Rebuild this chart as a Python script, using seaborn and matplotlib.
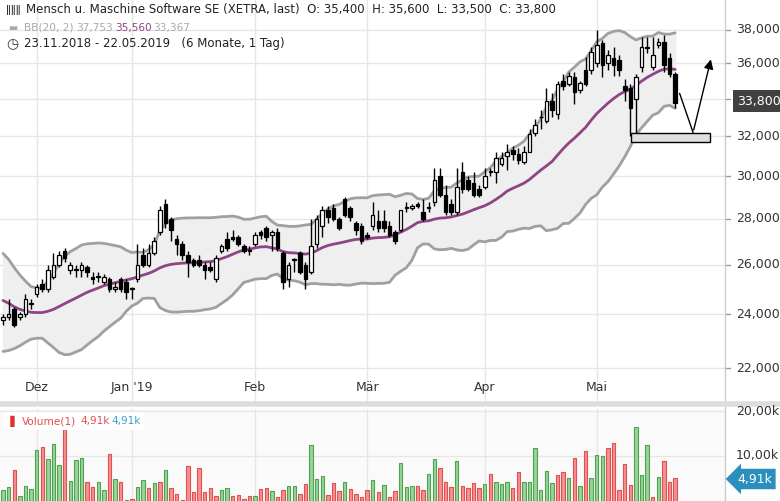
import numpy as np
import pandas as pd
import matplotlib
matplotlib.use("Agg")
import matplotlib.pyplot as plt
import seaborn as sns
from matplotlib.patches import Rectangle

sns.set_theme(style="white", font="DejaVu Sans")

# trading days 23.11.2018 - 22.05.2019 (XETRA holidays removed)
holidays = ["2018-12-24", "2018-12-25", "2018-12-26", "2018-12-31", "2019-01-01",
            "2019-04-19", "2019-04-22", "2019-05-01"]
days = pd.bdate_range("2018-11-23", "2019-05-22")
days = days[~days.isin(pd.to_datetime(holidays))]

# prices in thousand EUR
opens = [23.8, 23.9, 24.2, 23.9, 24.0, 24.4,
         24.8, 25.2, 25.0, 25.5, 26.0, 26.6, 25.8, 25.8, 25.8, 25.9, 25.5, 25.5, 25.3, 25.4, 25.0, 25.4, 25.3,
         25.0, 25.4, 26.4, 26.0, 26.5, 27.4, 28.7, 28.0, 27.1, 26.9, 26.4, 26.2, 26.2, 26.0, 25.9, 25.4, 26.6, 27.1, 27.2, 27.2, 26.8, 26.6,
         26.9, 27.4, 27.6, 27.3, 27.4, 26.5, 25.4, 26.2, 26.5, 26.0, 25.7, 26.9, 27.7, 28.4, 28.5, 28.0, 28.9, 28.5, 27.8, 27.7,
         27.3, 27.7, 27.9, 27.9, 27.7, 27.4, 27.5, 28.5, 28.5, 28.7, 28.3, 28.5, 28.8, 30.0, 29.1, 28.7, 28.3, 30.2, 29.8, 29.7, 29.4,
         29.5, 30.2, 30.2, 30.6, 31.0, 31.3, 31.1, 30.7, 31.2, 32.2, 33.0, 32.8, 33.9, 33.2, 35.0, 34.8, 35.2, 34.5, 35.6, 35.6,
         36.0, 37.2, 36.0, 36.3, 36.2, 34.7, 34.6, 34.0, 35.8, 37.0, 35.8, 37.1, 37.3, 36.3, 35.4]
closes = [23.9, 24.0, 23.6, 24.0, 24.6, 24.4,
          25.1, 25.0, 25.8, 26.0, 26.4, 26.3, 26.0, 25.8, 26.0, 25.7, 25.4, 25.5, 25.5, 25.0, 25.1, 25.0, 24.9,
          25.0, 26.0, 26.0, 26.5, 27.0, 28.4, 27.8, 27.5, 26.9, 26.4, 26.1, 26.0, 26.0, 25.8, 25.8, 26.3, 26.8, 26.7, 27.1, 26.9, 26.6, 26.6,
          27.3, 27.3, 27.2, 27.4, 26.7, 25.3, 26.0, 26.2, 25.7, 25.4, 26.8, 28.0, 28.4, 28.1, 28.0, 27.6, 28.2, 28.1, 27.5, 27.0,
          27.2, 28.2, 27.6, 27.6, 27.3, 27.0, 28.4, 28.5, 28.6, 28.6, 28.0, 28.5, 29.8, 29.1, 28.3, 28.3, 29.5, 29.4, 29.4, 29.1, 29.1,
          30.0, 30.2, 30.9, 30.9, 31.2, 31.1, 30.8, 31.2, 32.1, 32.6, 33.0, 33.9, 33.4, 34.8, 34.7, 35.3, 34.4, 34.9, 34.8, 36.7,
          37.1, 35.9, 36.5, 35.9, 35.6, 34.5, 33.5, 35.2, 37.0, 36.9, 36.5, 37.3, 35.9, 35.4, 33.8]
highs = [24.0, 24.6, 24.3, 24.1, 24.8, 24.6,
         25.2, 25.4, 26.0, 26.5, 26.6, 26.7, 26.1, 26.0, 26.1, 26.0, 25.7, 25.7, 25.6, 25.5, 25.3, 25.5, 25.4,
         25.1, 26.9, 26.7, 26.9, 27.2, 28.6, 28.9, 28.1, 27.3, 27.0, 26.6, 26.3, 26.4, 26.1, 26.1, 26.4, 26.9, 27.4, 27.5, 27.3, 26.9, 26.8,
         27.4, 27.5, 27.7, 27.5, 27.6, 26.6, 26.1, 26.3, 26.6, 26.1, 28.0, 28.2, 28.6, 28.6, 28.7, 28.1, 29.0, 28.6, 27.9, 27.8,
         27.4, 28.8, 28.4, 28.4, 27.9, 27.5, 28.4, 28.8, 28.7, 28.8, 28.9, 28.8, 30.4, 30.4, 29.6, 28.9, 30.4, 30.7, 30.0, 30.2, 29.6,
         30.4, 30.4, 31.2, 31.2, 31.6, 31.5, 31.4, 31.5, 32.4, 32.9, 33.4, 34.6, 34.3, 35.0, 35.4, 35.5, 35.5, 35.0, 36.4, 37.0,
         38.0, 37.4, 36.8, 37.0, 36.5, 35.1, 34.8, 35.4, 37.6, 37.6, 37.6, 37.5, 37.7, 36.6, 35.5]
lows = [23.6, 23.8, 23.5, 23.8, 23.9, 24.2,
        24.7, 24.9, 24.9, 25.4, 25.9, 26.1, 25.6, 25.5, 25.5, 25.5, 25.2, 25.3, 25.2, 24.9, 24.9, 24.9, 24.6,
        24.6, 25.3, 25.9, 25.9, 26.4, 27.3, 27.6, 27.0, 26.4, 26.2, 25.5, 25.9, 25.9, 25.4, 25.7, 25.3, 26.5, 26.6, 27.0, 26.8, 26.5, 26.4,
        26.8, 27.1, 27.0, 26.6, 26.6, 25.0, 25.1, 25.7, 25.6, 25.0, 25.6, 26.7, 27.2, 27.8, 27.9, 27.5, 28.1, 27.9, 27.3, 26.9,
        27.1, 27.5, 27.4, 27.4, 27.2, 26.9, 27.4, 28.3, 28.4, 28.5, 27.9, 28.3, 28.6, 29.0, 28.2, 28.2, 28.2, 29.2, 29.3, 29.0, 29.0,
        29.4, 30.0, 29.7, 30.5, 30.3, 30.8, 30.6, 30.6, 31.2, 32.0, 32.4, 32.7, 33.0, 32.9, 34.5, 34.7, 33.7, 34.3, 34.7, 35.4,
        35.8, 35.2, 35.6, 35.3, 35.3, 33.9, 32.0, 32.0, 35.5, 36.6, 35.6, 36.9, 35.5, 35.2, 33.5]
# closes of the 19 days before the chart start (for the Bollinger window)
pre_closes = [26.2, 26.4, 26.0, 25.8, 25.5, 25.3, 25.0, 24.8, 24.5, 24.2,
              24.0, 23.8, 23.6, 23.7, 23.4, 23.6, 23.8, 23.6, 23.8]

# volume in thousand shares, g = up, r = down
volume = [2.5, 3.0, 6.9, 1.1, 3.3, 2.7, 11.3, 11.9, 9.3, 12.7, 8.0, 16.5,
          4.4, 9.1, 9.5, 4.3, 3.0, 4.2, 2.4, 10.4, 4.8, 4.3, 0.2,
          0.4, 3.0, 4.7, 2.9, 3.9, 4.2, 6.9, 2.9, 1.6, 0.2, 7.8,
          1.9, 7.3, 2.0, 2.8, 1.1, 2.4, 2.8, 1.1, 1.3, 0.5, 1.0,
          1.1, 2.6, 2.9, 2.3, 0.9, 2.4, 3.3, 3.3, 1.6, 3.7, 12.4,
          4.8, 5.6, 1.3, 4.1, 2.2, 4.3, 2.6, 1.6, 0.9, 2.4, 4.7,
          2.0, 3.5, 0.9, 2.2, 8.4, 3.2, 3.3, 3.3, 2.5, 6.0, 9.3,
          7.3, 4.2, 3.2, 8.9, 3.3, 2.9, 4.0, 2.9, 3.8, 6.0, 4.2,
          3.8, 4.2, 2.9, 6.4, 4.2, 4.2, 11.7, 2.4, 6.7, 4.0, 5.7,
          6.4, 5.1, 9.6, 3.3, 11.0, 5.1, 10.2, 10.0, 11.7, 12.9, 2.4,
          8.2, 3.6, 16.4, 5.7, 12.4, 0.9, 5.3, 8.9, 4.2, 5.1]
vol_dir = ("ggrggggrgggr" "gggrrggrgrg" "rggrgrgrrrr" "rrrrrggrrrr"
           "grrgrrggrrg" "ggrrrgrrrrg" "rgrrgggrrgg" "rrrgrrrrgrg"
           "ggrrggggggr" "rgrgrgggrrr" "rrgggrgrrr")

n = len(days)
idx = np.arange(n)
o = np.array(opens) * 1000
c = np.array(closes) * 1000
h = np.array(highs) * 1000
l = np.array(lows) * 1000

allc = pd.Series(list(np.array(pre_closes) * 1000) + list(c))
mid = allc.rolling(20).mean().values[-n:]
sd = allc.rolling(20).std(ddof=0).values[-n:]
bb = pd.DataFrame({"x": idx, "mid": mid, "up": mid + 2 * sd, "lo": mid - 2 * sd})

fig = plt.figure(figsize=(7.8, 5.01), dpi=100)
ax = fig.add_axes([0, 96 / 501, 725 / 780, 405 / 501])
axv = fig.add_axes([0, 0, 725 / 780, 92 / 501])

x0, x1 = -0.54, 128.9
month_starts = [i for i in range(1, n) if days[i].month != days[i - 1].month]
month_names = ["Dez", "Jan '19", "Feb", "Mär", "Apr", "Mai"]

for a in (ax, axv):
    a.set_facecolor("white")
    a.set_xlim(x0, x1)
    for m in month_starts:
        a.axvline(m, color="#e6e6e6", lw=1, zorder=0)
    for s in a.spines.values():
        s.set_visible(False)
    a.set_xticks([])

# price panel
ax.set_yscale("log")
ax.set_ylim(20730, 39890)
for lev in range(22000, 40000, 2000):
    ax.axhline(lev, color="#e6e6e6", lw=1, zorder=0)
ax.set_yticks([])
ax.minorticks_off()

ax.fill_between(bb["x"], bb["lo"], bb["up"], color="#efefef", zorder=1)
sns.lineplot(data=bb, x="x", y="up", ax=ax, color="#a0a0a0", lw=2, zorder=2)
sns.lineplot(data=bb, x="x", y="lo", ax=ax, color="#a0a0a0", lw=2, zorder=2)
sns.lineplot(data=bb, x="x", y="mid", ax=ax, color="#8e4585", lw=2, zorder=2)
ax.set_xlabel("")
ax.set_ylabel("")

for i in range(n):
    ax.vlines(idx[i], l[i], h[i], color="black", lw=1, zorder=3)
    up = c[i] >= o[i]
    bot, top = min(o[i], c[i]), max(o[i], c[i])
    if top - bot < 40:
        top = bot + 40
    ax.add_patch(Rectangle((idx[i] - 0.32, bot), 0.64, top - bot,
                           facecolor="white" if up else "black", edgecolor="black", lw=0.9, zorder=4))

for m, name in zip(month_starts, month_names):
    ax.text(m, 21330, name, ha="center", va="center", fontsize=9, color="#333333")

# annotation box and arrow
ax.add_patch(Rectangle((112.2, 31700), 14, 450, facecolor="#e0e0e0", edgecolor="black", lw=1, zorder=5))
ax.plot([120.8, 123.2], [34300, 32200], color="black", lw=1, zorder=5)
ax.annotate("", xy=(126.5, 36400), xytext=(123.2, 32200),
            arrowprops=dict(arrowstyle="-|>", color="black", lw=1, mutation_scale=14), zorder=5)

# volume panel
axv.set_ylim(0, 20.4)
axv.set_facecolor("#fafafa")
for lev in (10, 20):
    axv.axhline(lev, color="#e6e6e6", lw=1, zorder=0)
axv.set_yticks([])
vcol = ["#98d398" if d == "g" else "#f59090" for d in vol_dir]
ecol = ["#4fa34f" if d == "g" else "#e05050" for d in vol_dir]
nv = len(volume)
axv.bar(np.arange(nv), volume, width=0.6, color=vcol, edgecolor=ecol, lw=0.8, zorder=2)

# right axis labels (34,000 is hidden behind the last-price box)
for lev in range(22000, 40000, 2000):
    y = 30 + 618.5 * (np.log(38000) - np.log(lev))
    fig.add_artist(plt.Line2D([725 / 780, 730 / 780], [1 - y / 501] * 2, color="#999999", lw=1))
    if lev != 34000:
        fig.text(736 / 780, 1 - y / 501, f"{lev // 1000},000", fontsize=9, color="#333333", va="center")
fig.text(737 / 780, 1 - 101 / 501, "33,800", fontsize=9, color="white", va="center",
         bbox=dict(boxstyle="square,pad=0.35", fc="#404040", ec="none"))
fig.text(736 / 780, 1 - 411 / 501, "20,00k", fontsize=9, color="#333333", va="center")
fig.text(736 / 780, 1 - 456 / 501, "10,00k", fontsize=9, color="#333333", va="center")
fig.text(737 / 780, 1 - 479 / 501, "4,91k", fontsize=9, color="white", va="center",
         bbox=dict(boxstyle="larrow,pad=0.3", fc="#2a8fbd", ec="none"))
fig.add_artist(plt.Line2D([725 / 780] * 2, [0, 1], color="#cccccc", lw=1))
fig.add_artist(plt.Line2D([0, 1], [1 - 404 / 501] * 2, color="#dddddd", lw=4))

# legends
fs = 8.5
fs2 = 7.6
fig.text(26 / 780, 1 - 10 / 501, "Mensch u. Maschine Software SE (XETRA, last)  O: 35,400  H: 35,600  L: 33,500  C: 33,800",
         fontsize=fs, color="#222222", va="center")
fig.text(6 / 780, 1 - 10 / 501, "ǁǁǁ", fontsize=7, color="#222222", va="center")
fig.text(8 / 780, 1 - 28 / 501, "▬", fontsize=7, color="#aaaaaa", va="center")
fig.text(24 / 780, 1 - 28 / 501, "BB(20, 2)", fontsize=fs2, color="#aaaaaa", va="center")
fig.text(76 / 780, 1 - 28 / 501, "37,753", fontsize=fs2, color="#aaaaaa", va="center")
fig.text(115 / 780, 1 - 28 / 501, "35,560", fontsize=fs2, color="#8e4585", va="center")
fig.text(153 / 780, 1 - 28 / 501, "33,367", fontsize=fs2, color="#aaaaaa", va="center")
fig.text(6 / 780, 1 - 44 / 501, "◷", fontsize=10, color="#333333", va="center")
fig.text(24 / 780, 1 - 44 / 501, "23.11.2018 - 22.05.2019   (6 Monate, 1 Tag)", fontsize=fs, color="#222222", va="center")
fig.add_artist(Rectangle((4 / 780, 1 - 430 / 501), 140 / 780, 18 / 501, transform=fig.transFigure,
                         facecolor="white", edgecolor="none", zorder=3))
fig.text(6 / 780, 1 - 421 / 501, "▐", fontsize=8, color="#e03030", va="center", zorder=4)
fig.text(22 / 780, 1 - 421 / 501, "Volume(1)", fontsize=fs2, color="#e05050", va="center", zorder=4)
fig.text(80 / 780, 1 - 421 / 501, "4,91k", fontsize=fs2, color="#e05050", va="center", zorder=4)
fig.text(111 / 780, 1 - 421 / 501, "4,91k", fontsize=fs2, color="#3aa0cc", va="center", zorder=4)

fig.savefig("out.png", dpi=100)
